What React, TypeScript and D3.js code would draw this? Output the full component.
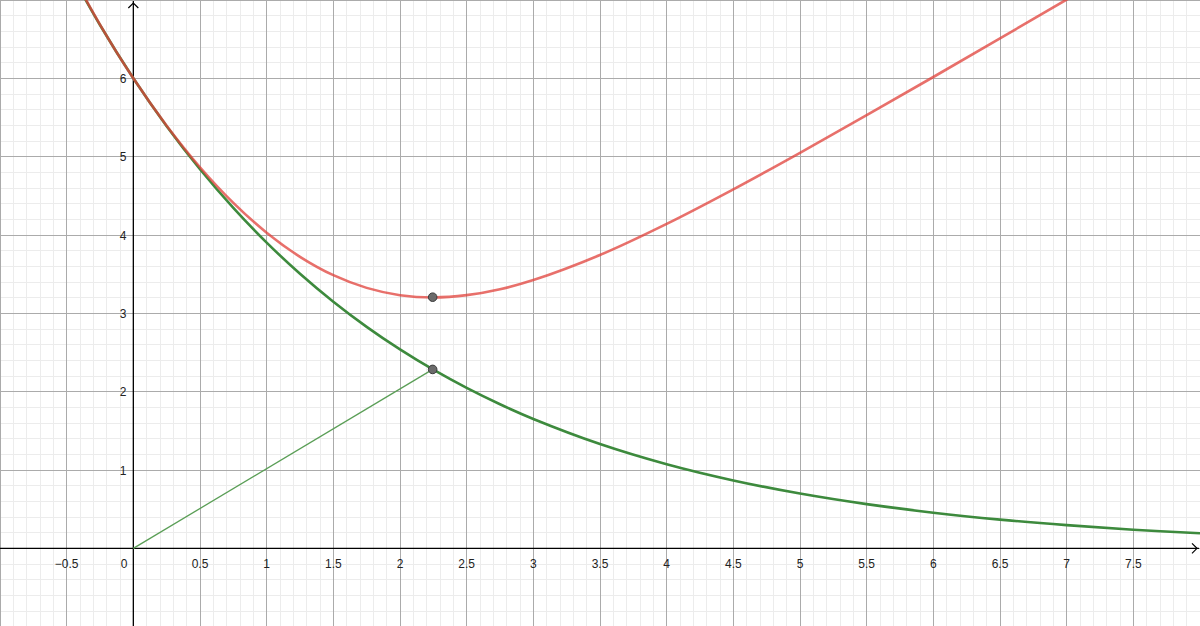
import React from "react";
import * as d3 from "d3";

const greenX = [-0.5, -0.25, 0, 0.25, 0.5, 0.75, 1, 1.25, 1.5, 1.75, 2, 2.25, 2.5, 2.75, 3, 3.5, 4, 4.5, 5, 5.5, 6, 6.5, 7, 7.5, 8];
const greenY = [7.44, 6.681, 6, 5.389, 4.839, 4.346, 3.903, 3.505, 3.148, 2.827, 2.539, 2.28, 2.048, 1.839, 1.652, 1.332, 1.074, 0.867, 0.699, 0.564, 0.455, 0.367, 0.296, 0.238, 0.192];

const redX = [-0.5, -0.25, 0, 0.25, 0.5, 0.75, 1, 1.25, 1.5, 1.75, 2, 2.25, 2.5, 2.75, 3, 3.5, 4, 4.5, 5, 5.5, 6, 6.5, 7, 7.25];
const redY = [7.457, 6.686, 6, 5.395, 4.865, 4.41, 4.029, 3.722, 3.487, 3.325, 3.232, 3.203, 3.232, 3.308, 3.425, 3.745, 4.142, 4.583, 5.049, 5.529, 6.017, 6.51, 7.006, 7.254];

const pointX = [2.245, 2.245];
const pointY = [3.206, 2.284];

const segmentX = [0, 2.245];
const segmentY = [0, 2.284];

const xTickLabels = ["−0.5", "0.5", "1", "1.5", "2", "2.5", "3", "3.5", "4", "4.5", "5", "5.5", "6", "6.5", "7", "7.5"];
const xTickValues = [-0.5, 0.5, 1, 1.5, 2, 2.5, 3, 3.5, 4, 4.5, 5, 5.5, 6, 6.5, 7, 7.5];
const yTickLabels = ["1", "2", "3", "4", "5", "6"];
const yTickValues = [1, 2, 3, 4, 5, 6];

const W = 1200;
const H = 626;

export default function App() {
  const x = d3.scaleLinear().domain([-1, 8]).range([0, 1200]);
  const y = d3.scaleLinear().domain([-1, 7]).range([626.67, 0]);

  const minorX = d3.range(-10, 81).map((i) => i / 10);
  const minorY = d3.range(-5, 36).map((i) => i / 5);
  const majorX = d3.range(-2, 17).map((i) => i / 2);
  const majorY = d3.range(-1, 8);

  const line = d3
    .line<[number, number]>()
    .x((d) => x(d[0]))
    .y((d) => y(d[1]))
    .curve(d3.curveCatmullRom.alpha(0.5));

  const greenPath = line(greenX.map((v, i) => [v, greenY[i]]) as [number, number][]) || "";
  const redPath = line(redX.map((v, i) => [v, redY[i]]) as [number, number][]) || "";

  const font = "'Liberation Sans', Arial, Helvetica, sans-serif";
  const x0 = x(0);
  const y0 = y(0);

  return (
    <div style={{ position: "fixed", left: 0, top: 0, width: W, height: H, background: "#fff" }}>
      <svg width={W} height={H} style={{ display: "block" }}>
        <defs>
          <clipPath id="plot">
            <rect x={0} y={0} width={W} height={H} />
          </clipPath>
        </defs>
        <rect x={0} y={0} width={W} height={H} fill="#ffffff" />
        <g shapeRendering="crispEdges">
          {minorX.map((v, i) => (
            <line key={"mx" + i} x1={x(v)} x2={x(v)} y1={0} y2={H} stroke="#ececec" strokeWidth={1} />
          ))}
          {minorY.map((v, i) => (
            <line key={"my" + i} x1={0} x2={W} y1={y(v)} y2={y(v)} stroke="#ececec" strokeWidth={1} />
          ))}
          {majorX.map((v, i) => (
            <line key={"Mx" + i} x1={x(v)} x2={x(v)} y1={0} y2={H} stroke="#ababab" strokeWidth={1} />
          ))}
          {majorY.map((v, i) => (
            <line key={"My" + i} x1={0} x2={W} y1={y(v)} y2={y(v)} stroke="#ababab" strokeWidth={1} />
          ))}
        </g>
        {/* axes */}
        <line x1={0} x2={W - 1} y1={y0} y2={y0} stroke="#000" strokeWidth={1.3} />
        <line x1={x0} x2={x0} y1={1} y2={H} stroke="#000" strokeWidth={1.3} />
        <path
          d={`M${W - 8},${y0 - 5} L${W - 3},${y0} L${W - 8},${y0 + 5}`}
          fill="none"
          stroke="#000"
          strokeWidth={1.2}
        />
        <path
          d={`M${x0 - 5},${8} L${x0},${3} L${x0 + 5},${8}`}
          fill="none"
          stroke="#000"
          strokeWidth={1.2}
        />
        {/* tick labels */}
        <g fontFamily={font} fontSize={12} fill="#222">
          {xTickValues.map((v, i) => (
            <text key={"xt" + i} x={x(v)} y={y0 + 20} textAnchor="middle">
              {xTickLabels[i]}
            </text>
          ))}
          <text x={x0 - 6} y={y0 + 20} textAnchor="end">0</text>
          {yTickValues.map((v, i) => (
            <text key={"yt" + i} x={x0 - 7} y={y(v) + 4.5} textAnchor="end">
              {yTickLabels[i]}
            </text>
          ))}
        </g>
        <g clipPath="url(#plot)">
          <line
            x1={x(segmentX[0])}
            y1={y(segmentY[0])}
            x2={x(segmentX[1])}
            y2={y(segmentY[1])}
            stroke="#5a9e56"
            strokeWidth={1.3}
          />
          <path d={greenPath} fill="none" stroke="#3d8a3d" strokeWidth={2.6} strokeLinejoin="round" />
          <path
            d={redPath}
            fill="none"
            stroke="#e0403a"
            strokeOpacity={0.75}
            strokeWidth={2.6}
            strokeLinejoin="round"
          />
          {pointX.map((v, i) => (
            <circle key={"p" + i} cx={x(v)} cy={y(pointY[i])} r={4.3} fill="#6b6b6b" stroke="#3a3a3a" strokeWidth={1} />
          ))}
        </g>
      </svg>
    </div>
  );
}
